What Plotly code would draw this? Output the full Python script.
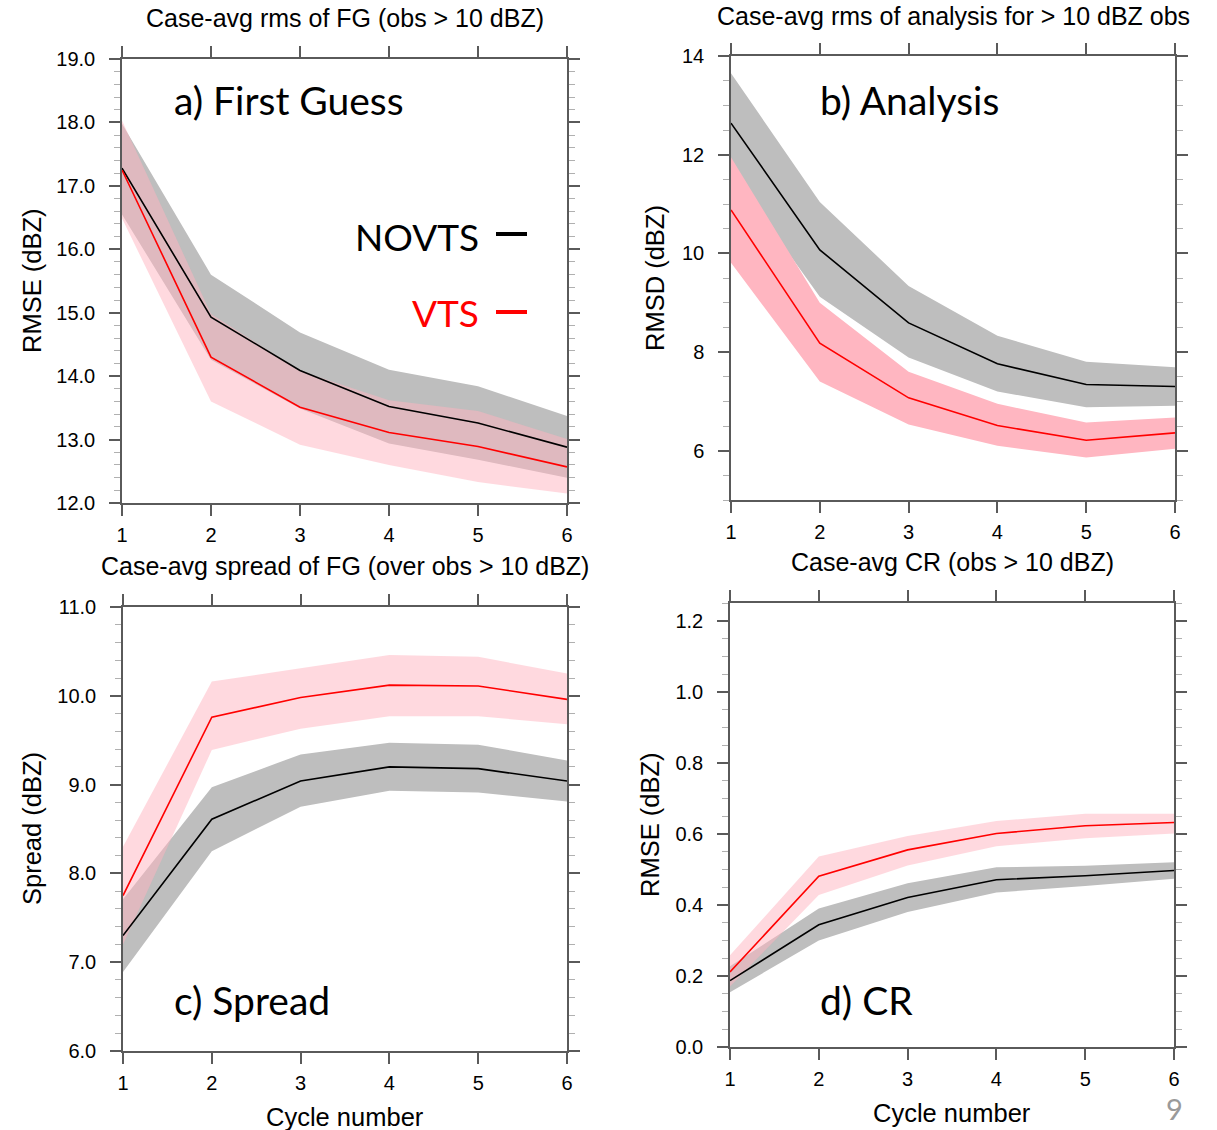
import plotly.graph_objects as go

W, H = 1217, 1130

cycles = [1, 2, 3, 4, 5, 6]

# Panel a) First Guess RMSE
a_novts = [17.28, 14.93, 14.09, 13.52, 13.26, 12.88]
a_novts_hi = [17.98, 15.60, 14.69, 14.10, 13.84, 13.37]
a_novts_lo = [16.55, 14.26, 13.49, 12.94, 12.68, 12.40]
a_vts = [17.25, 14.30, 13.51, 13.11, 12.89, 12.57]
a_vts_hi = [18.03, 14.98, 14.08, 13.62, 13.45, 13.01]
a_vts_lo = [16.49, 13.60, 12.92, 12.60, 12.33, 12.15]

# Panel b) Analysis RMSD
b_novts = [12.64, 10.07, 8.59, 7.76, 7.34, 7.30]
b_novts_hi = [13.65, 11.04, 9.34, 8.33, 7.80, 7.69]
b_novts_lo = [11.63, 9.12, 7.89, 7.20, 6.88, 6.91]
b_vts = [10.88, 8.18, 7.07, 6.51, 6.21, 6.36]
b_vts_hi = [11.95, 9.00, 7.60, 6.95, 6.57, 6.67]
b_vts_lo = [9.81, 7.40, 6.53, 6.10, 5.86, 6.04]

# Panel c) Spread
c_novts = [7.30, 8.61, 9.04, 9.20, 9.18, 9.04]
c_novts_hi = [7.71, 8.97, 9.34, 9.47, 9.45, 9.27]
c_novts_lo = [6.89, 8.25, 8.75, 8.93, 8.91, 8.81]
c_vts = [7.75, 9.76, 9.98, 10.12, 10.11, 9.96]
c_vts_hi = [8.30, 10.16, 10.31, 10.46, 10.44, 10.25]
c_vts_lo = [7.20, 9.39, 9.63, 9.77, 9.77, 9.68]

# Panel d) CR
d_novts = [0.187, 0.344, 0.421, 0.471, 0.482, 0.497]
d_novts_hi = [0.227, 0.390, 0.461, 0.506, 0.510, 0.520]
d_novts_lo = [0.154, 0.300, 0.380, 0.435, 0.453, 0.474]
d_vts = [0.211, 0.481, 0.555, 0.601, 0.623, 0.632]
d_vts_hi = [0.258, 0.536, 0.594, 0.636, 0.657, 0.657]
d_vts_lo = [0.170, 0.428, 0.511, 0.565, 0.588, 0.601]

panel_titles = ["Case-avg rms of FG (obs > 10 dBZ)",
                "Case-avg rms of analysis for > 10 dBZ obs",
                "Case-avg spread of FG (over obs > 10 dBZ)",
                "Case-avg CR (obs > 10 dBZ)"]
panel_labels = ["a) First Guess", "b) Analysis", "c) Spread", "d) CR"]
y_titles = ["RMSE (dBZ)", "RMSD (dBZ)", "Spread (dBZ)", "RMSE (dBZ)"]
x_title = "Cycle number"
legend_names = ["NOVTS", "VTS"]

GRAY = "rgb(190,190,190)"
PINK_T = "rgba(255,180,192,0.5)"
PINK_S = "rgb(255,182,193)"
AXC = "#5a5a5a"
FONT = "Liberation Sans, Arial, sans-serif"
LFONT = "Lato, sans-serif"


def px(x):
    return x / W


def py(y):
    return 1 - y / H


# pixel boxes: left, right, top, bottom
boxes = [(122, 567, 59, 503), (731, 1175, 56, 500),
         (123, 567, 607, 1051), (730, 1174, 603, 1047)]
title_y = [18, 16, 566, 562]
ytitle_x = [32, 655, 32, 650]
xtitle_y = [None, None, 1117, 1113]

panels = [
    (a_novts, a_novts_hi, a_novts_lo, a_vts, a_vts_hi, a_vts_lo, PINK_T,
     [12, 19], 1, 0.2, ".1f"),
    (b_novts, b_novts_hi, b_novts_lo, b_vts, b_vts_hi, b_vts_lo, PINK_S,
     [5, 14], 2, 0.5, "d"),
    (c_novts, c_novts_hi, c_novts_lo, c_vts, c_vts_hi, c_vts_lo, PINK_T,
     [6, 11], 1, 0.2, ".1f"),
    (d_novts, d_novts_hi, d_novts_lo, d_vts, d_vts_hi, d_vts_lo, PINK_T,
     [0, 1.25], 0.2, 0.05, ".1f"),
]

fig = go.Figure()
layout = dict(width=W, height=H, margin=dict(l=0, r=0, t=0, b=0, pad=0, autoexpand=False),
              paper_bgcolor="white", plot_bgcolor="white", showlegend=False,
              font=dict(family=FONT, color="black"))
annotations = []
shapes = []

for i, (nv, nvh, nvl, v, vh, vl, pink, yr, dt, mdt, fmt) in enumerate(panels):
    n = i + 1
    xa = "x" if n == 1 else f"x{n}"
    ya = "y" if n == 1 else f"y{n}"
    xkey = "xaxis" if n == 1 else f"xaxis{n}"
    ykey = "yaxis" if n == 1 else f"yaxis{n}"
    l, r, t, b = boxes[i]

    fig.add_trace(go.Scatter(x=cycles + cycles[::-1], y=nvh + nvl[::-1],
                             fill="toself", fillcolor=GRAY, mode="none",
                             xaxis=xa, yaxis=ya, hoverinfo="skip"))
    fig.add_trace(go.Scatter(x=cycles + cycles[::-1], y=vh + vl[::-1],
                             fill="toself", fillcolor=pink, mode="none",
                             xaxis=xa, yaxis=ya, hoverinfo="skip"))
    fig.add_trace(go.Scatter(x=cycles, y=nv, mode="lines", name=legend_names[0],
                             line=dict(color="black", width=1.6),
                             xaxis=xa, yaxis=ya))
    fig.add_trace(go.Scatter(x=cycles, y=v, mode="lines", name=legend_names[1],
                             line=dict(color="red", width=1.6),
                             xaxis=xa, yaxis=ya))

    common = dict(showline=True, linecolor=AXC, linewidth=1.5, mirror="allticks",
                  ticks="outside", ticklen=11, tickwidth=1.5, tickcolor=AXC,
                  showgrid=False, zeroline=False, automargin=False,
                  tickfont=dict(family=FONT, size=20, color="black"))
    layout[xkey] = dict(domain=[px(l), px(r)], range=[1, 6], anchor=ya,
                        tickmode="array", tickvals=cycles,
                        ticktext=[str(c) for c in cycles],
                        ticklabelstandoff=2, **common)
    layout[ykey] = dict(domain=[py(b), py(t)], range=yr, anchor=xa,
                        tick0=0, dtick=dt, tickformat=fmt,
                        ticklabelstandoff=10,
                        minor=dict(ticks="outside", ticklen=6, dtick=mdt, tick0=0,
                                   tickcolor="#b0b0b0", tickwidth=1.2),
                        **common)

    # panel title
    annotations.append(dict(text=panel_titles[i], x=px((l + r) / 2),
                            y=py(title_y[i]), xref="paper", yref="paper",
                            showarrow=False, xanchor="center", yanchor="middle",
                            font=dict(family=FONT, size=25, color="black")))
    # y axis title
    annotations.append(dict(text=y_titles[i], x=px(ytitle_x[i]),
                            y=py((t + b) / 2), xref="paper", yref="paper",
                            textangle=-90, showarrow=False,
                            xanchor="center", yanchor="middle",
                            font=dict(family=FONT, size=25.5, color="black")))
    # x axis title (bottom row)
    if xtitle_y[i] is not None:
        annotations.append(dict(text=x_title, x=px((l + r) / 2), y=py(xtitle_y[i]),
                                xref="paper", yref="paper", showarrow=False,
                                xanchor="center", yanchor="middle",
                                font=dict(family=FONT, size=25.5, color="black")))
    # panel label
    lx = [172, 818, 172, 818][i]
    lyy = [100, 100, 1000, 1000][i]
    annotations.append(dict(text=panel_labels[i], x=px(lx), y=py(lyy),
                            xref="paper", yref="paper", showarrow=False,
                            xanchor="left", yanchor="middle",
                            font=dict(family=LFONT, size=39, color="black")))

# legend in panel a
annotations.append(dict(text=legend_names[0], x=px(481), y=py(237), xref="paper", yref="paper",
                        showarrow=False, xanchor="right", yanchor="middle",
                        font=dict(family=LFONT, size=37, color="black")))
annotations.append(dict(text=legend_names[1], x=px(481), y=py(313), xref="paper", yref="paper",
                        showarrow=False, xanchor="right", yanchor="middle",
                        font=dict(family=LFONT, size=37, color="red")))
shapes.append(dict(type="line", xref="paper", yref="paper", x0=px(496), x1=px(527),
                   y0=py(234), y1=py(234), line=dict(color="black", width=4)))
shapes.append(dict(type="line", xref="paper", yref="paper", x0=px(496), x1=px(527),
                   y0=py(312), y1=py(312), line=dict(color="red", width=4)))

# page number
annotations.append(dict(text="9", x=px(1174), y=py(1108), xref="paper", yref="paper",
                        showarrow=False, xanchor="center", yanchor="middle",
                        font=dict(family=LFONT, size=29, color="#9a9a9a")))

layout["annotations"] = annotations
layout["shapes"] = shapes
fig.update_layout(**layout)
fig.write_html("out.html")
